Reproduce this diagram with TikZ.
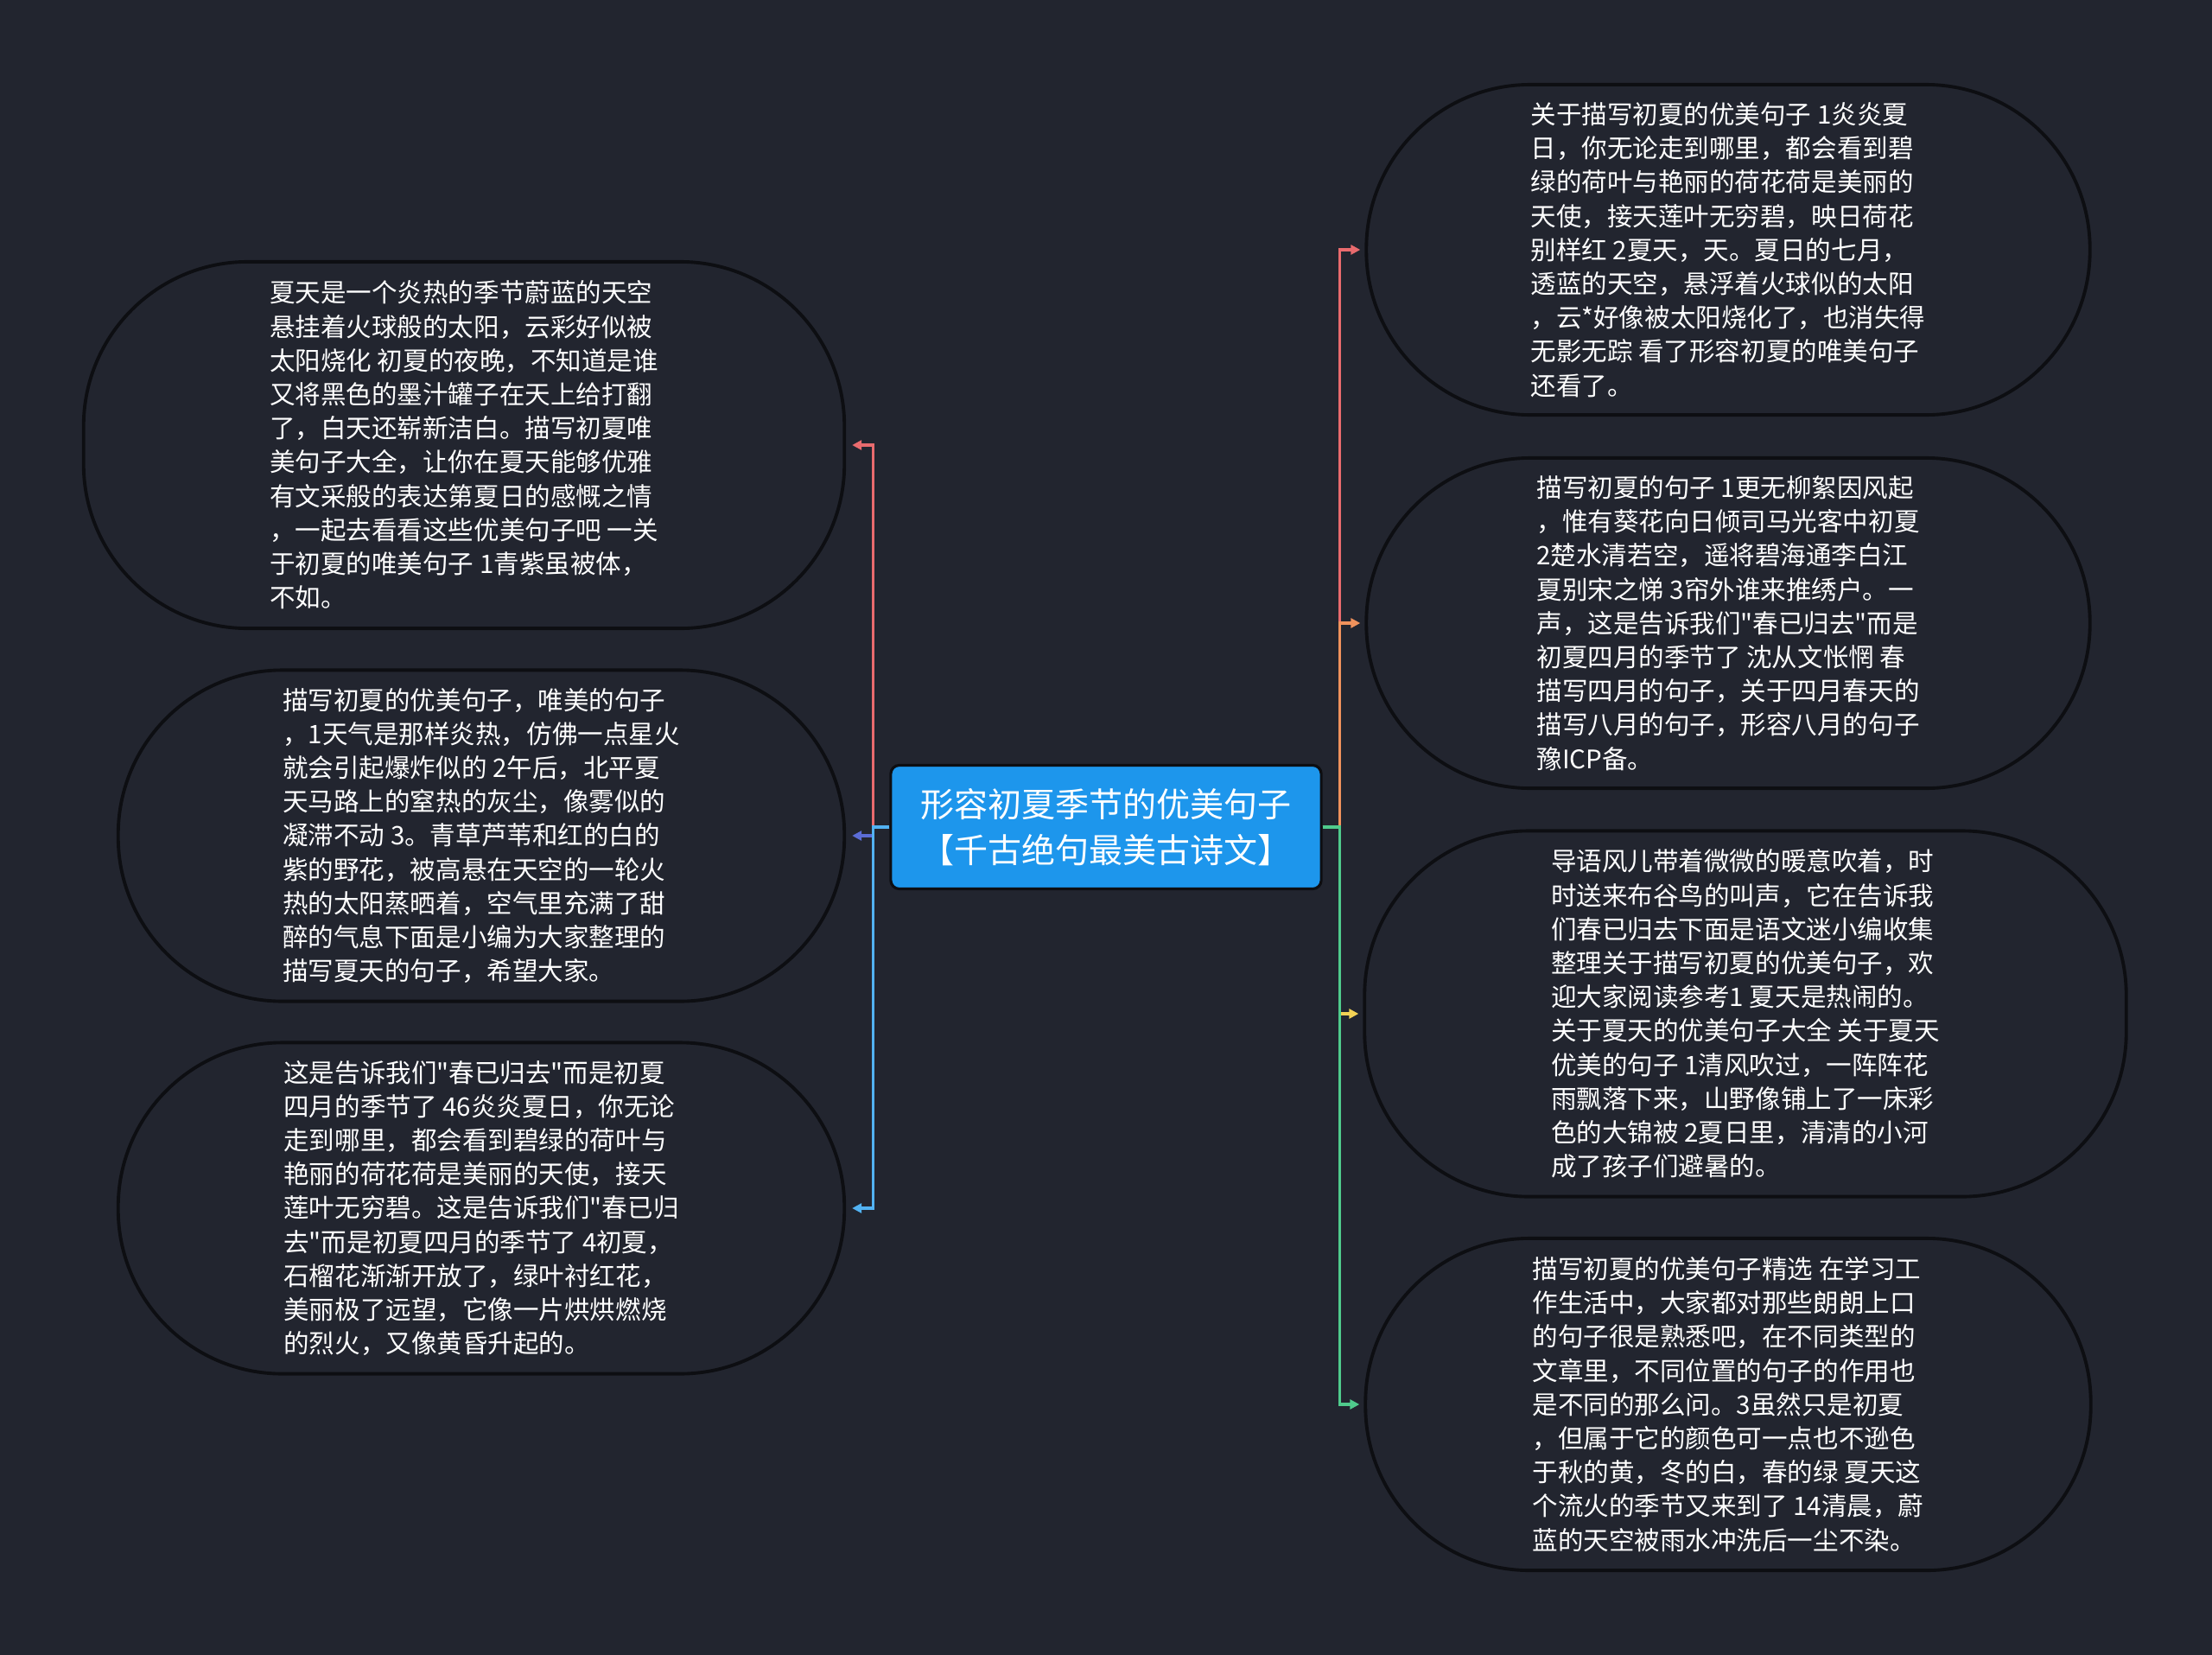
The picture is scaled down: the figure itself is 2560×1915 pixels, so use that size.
\documentclass[tikz,border=0pt]{standalone}
\usepackage{fontspec}
\setmainfont{Noto Sans CJK SC}[Ligatures=TeXOff]
\usepackage{xcolor}
\usepackage{tikz}
\usetikzlibrary{arrows.meta,positioning,calc}
\definecolor{bg}{HTML}{22252F}
\definecolor{rim}{HTML}{0D0E12}
\definecolor{hub}{HTML}{1D96EC}
\definecolor{cred}{HTML}{E96B6E}
\definecolor{cindigo}{HTML}{5B6CD6}
\definecolor{csky}{HTML}{52B2F2}
\definecolor{corange}{HTML}{F0925C}
\definecolor{cyellow}{HTML}{F3D255}
\definecolor{cgreen}{HTML}{4FCB8C}
\tikzset{
  bubble/.style={rectangle, rounded corners=1.9cm, draw=rim, fill=bg, line width=1.1pt,
                 align=left, inner sep=0pt, text=white,
                 font=\fontsize{8.4pt}{11.15pt}\selectfont},
  hubbox/.style={rectangle, rounded corners=1mm, draw=rim, fill=hub, line width=0.9pt,
                 align=center, text=white, minimum width=4.98cm, minimum height=1.43cm,
                 font=\fontsize{11.1pt}{15.1pt}\selectfont},
  fl/.style={-{Triangle[length=1.1mm,width=1.1mm]}, line width=0.9pt},
}

\begin{document}
\begin{tikzpicture}[x=0.01cm, y=-0.01cm]
  \fill[bg] (0,0) rectangle (2560,1915);
  % centre
  \node[hubbox] (c) at (1280,957) {形容初夏季节的优美句子\\【千古绝句最美古诗文】};
  % left side
  \node[bubble, minimum width=8.8cm, minimum height=4.24cm] (l1) at (537,515) {夏天是一个炎热的季节蔚蓝的天空\\
悬挂着火球般的太阳，云彩好似被\\
太阳烧化 初夏的夜晚，不知道是谁\\
又将黑色的墨汁罐子在天上给打翻\\
了，白天还崭新洁白。描写初夏唯\\
美句子大全，让你在夏天能够优雅\\
有文采般的表达第夏日的感慨之情\\
，一起去看看这些优美句子吧 一关\\
于初夏的唯美句子 1青紫虽被体，\\
不如。};
  \node[bubble, minimum width=8.4cm, minimum height=3.83cm] (l2) at (557,967) {描写初夏的优美句子，唯美的句子\\
，1天气是那样炎热，仿佛一点星火\\
就会引起爆炸似的 2午后，北平夏\\
天马路上的窒热的灰尘，像雾似的\\
凝滞不动 3。青草芦苇和红的白的\\
紫的野花，被高悬在天空的一轮火\\
热的太阳蒸晒着，空气里充满了甜\\
醉的气息下面是小编为大家整理的\\
描写夏天的句子，希望大家。};
  \node[bubble, minimum width=8.4cm, minimum height=3.83cm] (l3) at (557,1398) {这是告诉我们"春已归去"而是初夏\\
四月的季节了 46炎炎夏日，你无论\\
走到哪里，都会看到碧绿的荷叶与\\
艳丽的荷花荷是美丽的天使，接天\\
莲叶无穷碧。这是告诉我们"春已归\\
去"而是初夏四月的季节了 4初夏，\\
石榴花渐渐开放了，绿叶衬红花，\\
美丽极了远望，它像一片烘烘燃烧\\
的烈火，又像黄昏升起的。};
  % right side
  \node[bubble, minimum width=8.37cm, minimum height=3.82cm] (r1) at (2000,289) {关于描写初夏的优美句子 1炎炎夏\\
日，你无论走到哪里，都会看到碧\\
绿的荷叶与艳丽的荷花荷是美丽的\\
天使，接天莲叶无穷碧，映日荷花\\
别样红 2夏天，天。夏日的七月，\\
透蓝的天空，悬浮着火球似的太阳\\
，云*好像被太阳烧化了，也消失得\\
无影无踪 看了形容初夏的唯美句子\\
还看了。};
  \node[bubble, minimum width=8.37cm, minimum height=3.82cm] (r2) at (2000,721) {描写初夏的句子 1更无柳絮因风起\\
，惟有葵花向日倾司马光客中初夏\\
2楚水清若空，遥将碧海通李白江\\
夏别宋之悌 3帘外谁来推绣户。一\\
声，这是告诉我们"春已归去"而是\\
初夏四月的季节了 沈从文怅惘 春\\
描写四月的句子，关于四月春天的\\
描写八月的句子，形容八月的句子\\
豫ICP备。};
  \node[bubble, minimum width=8.81cm, minimum height=4.23cm] (r3) at (2020,1173) {导语风儿带着微微的暖意吹着，时\\
时送来布谷鸟的叫声，它在告诉我\\
们春已归去下面是语文迷小编收集\\
整理关于描写初夏的优美句子，欢\\
迎大家阅读参考1 夏天是热闹的。\\
关于夏天的优美句子大全 关于夏天\\
优美的句子 1清风吹过，一阵阵花\\
雨飘落下来，山野像铺上了一床彩\\
色的大锦被 2夏日里，清清的小河\\
成了孩子们避暑的。};
  \node[bubble, minimum width=8.39cm, minimum height=3.84cm] (r4) at (2000,1625) {描写初夏的优美句子精选 在学习工\\
作生活中，大家都对那些朗朗上口\\
的句子很是熟悉吧，在不同类型的\\
文章里，不同位置的句子的作用也\\
是不同的那么问。3虽然只是初夏\\
，但属于它的颜色可一点也不逊色\\
于秋的黄，冬的白，春的绿 夏天这\\
个流火的季节又来到了 14清晨，蔚\\
蓝的天空被雨水冲洗后一尘不染。};
  % connectors
  \draw[fl, draw=cred] (c.west) -- ++(-19,0) |- ($(l1.east)+(7,0)$);
  \draw[fl, draw=cindigo] (c.west) -- ++(-19,0) |- ($(l2.east)+(7,0)$);
  \draw[fl, draw=csky] (c.west) -- ++(-19,0) |- ($(l3.east)+(7,0)$);
  \draw[fl, draw=cred] (c.east) -- ++(20,0) |- ($(r1.west)+(-5,0)$);
  \draw[fl, draw=corange] (c.east) -- ++(20,0) |- ($(r2.west)+(-5,0)$);
  \draw[fl, draw=cyellow] (c.east) -- ++(20,0) |- ($(r3.west)+(-5,0)$);
  \draw[fl, draw=cgreen] (c.east) -- ++(20,0) |- ($(r4.west)+(-5,0)$);
\end{tikzpicture}
\end{document}
